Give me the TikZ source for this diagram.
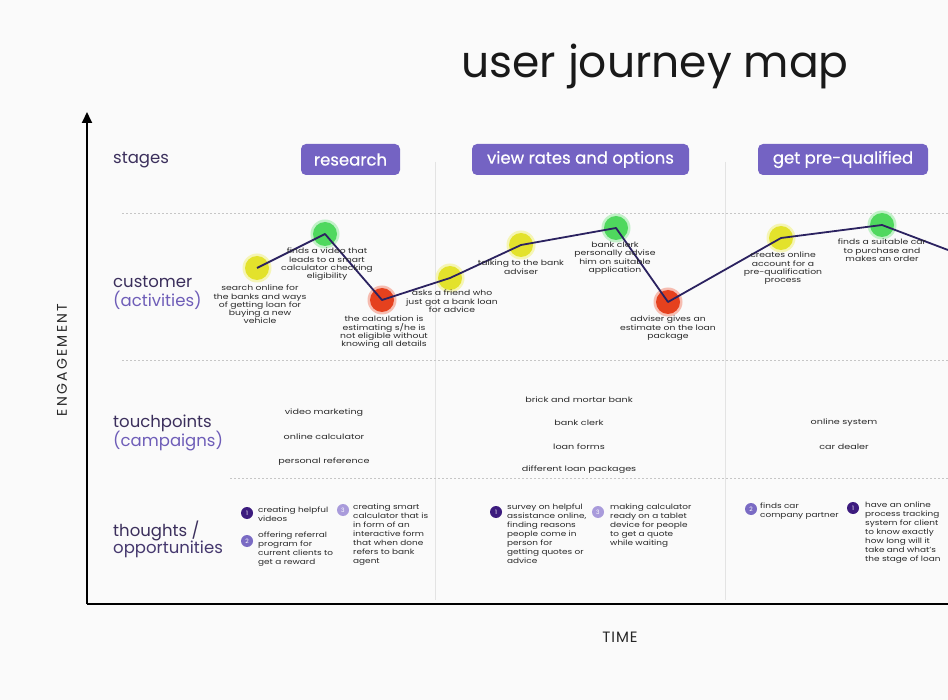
\documentclass[tikz,border=0pt]{standalone}
\usepackage{fontspec}
\setmainfont{Poppins}
\usetikzlibrary{arrows.meta}
\definecolor{bg}{HTML}{FAFAFA}
\definecolor{stagepurple}{HTML}{7463C3}
\definecolor{darkp}{HTML}{3B2F5C}
\definecolor{midp}{HTML}{6E5DB8}
\definecolor{linec}{HTML}{2B2260}
\definecolor{cyellow}{HTML}{E3E22C}
\definecolor{cgreen}{HTML}{4FD85E}
\definecolor{cred}{HTML}{E5411E}
\definecolor{bone}{HTML}{3C1B7E}
\definecolor{btwo}{HTML}{7A6BC4}
\definecolor{bthree}{HTML}{A99BDB}
\definecolor{txt}{HTML}{2A2A2A}
\begin{document}
\begin{tikzpicture}[x=1pt,y=-1pt,
 stagebox/.style={fill=stagepurple, rounded corners=5pt, text=white, font=\fontsize{16.5}{18}\selectfont\addfontfeatures{FakeBold=0.6}, minimum height=31pt, inner sep=0pt},
 rowlab/.style={anchor=west, font=\fontsize{16.5}{18}\selectfont, text=darkp, inner sep=0pt},
 rowlabb/.style={rowlab, text=midp},
 sepline/.style={gray!45, line width=0.6pt, dash pattern=on 2pt off 2pt},
 colsep/.style={gray!22, line width=0.8pt},
 dotc/.style={circle, minimum size=24pt, inner sep=0pt},
 small/.style={anchor=north, font=\fontsize{7.4}{8.2}\selectfont\addfontfeatures{FakeStretch=1.25}, text=txt, align=center, inner sep=0pt},
 tp/.style={font=\fontsize{7.4}{8}\selectfont\addfontfeatures{FakeStretch=1.3}, text=txt, inner sep=0pt},
 badge/.style={circle, minimum size=12pt, inner sep=0pt, text=white, font=\fontsize{6}{6}\selectfont},
 thought/.style={anchor=north west, align=left, font=\fontsize{7.3}{9}\selectfont\addfontfeatures{FakeStretch=1.22}, text=txt, inner sep=0pt},
 journey/.style={linec, line width=1.8pt, line join=round},
 axis/.style={black, line width=1.8pt},
]
\useasboundingbox (0,0) rectangle (948,700);
\fill[bg] (0,0) rectangle (948,700);

% title
\node[font=\fontsize{44}{50}\selectfont, text=black!90] (title) at (655,66) {user journey map};

% column separators
\coordinate (c1t) at (435,162); \coordinate (c1b) at (435,600);
\coordinate (c2t) at (725,162); \coordinate (c2b) at (725,600);
\draw[colsep] (c1t) -- (c1b);
\draw[colsep] (c2t) -- (c2b);

% row separators
\coordinate (s1a) at (122,213); \coordinate (s1b) at (948,213);
\coordinate (s2a) at (122,360); \coordinate (s2b) at (948,360);
\coordinate (s3a) at (230,478); \coordinate (s3b) at (948,478);
\draw[sepline] (s1a) -- (s1b);
\draw[sepline] (s2a) -- (s2b);
\draw[sepline] (s3a) -- (s3b);

% axes
\coordinate (origin) at (87,604);
\coordinate (ytop) at (87,112);
\coordinate (xend) at (948,604);
\draw[axis, -{Triangle[length=11pt,width=10pt]}] (origin) -- (ytop);
\draw[axis] (origin) -- (xend);
\node[rotate=90, font=\fontsize{14}{16}\selectfont\addfontfeatures{LetterSpace=16}, text=black!85] (eng) at (62,360) {ENGAGEMENT};
\node[font=\fontsize{15}{17}\selectfont\addfontfeatures{LetterSpace=6}, text=black!85] (time) at (620,637) {TIME};

% row labels
\node[rowlab] (lstages) at (113,160) {stages};
\node[rowlab] (lcust) at (113,282) {customer};
\node[rowlabb] (lact) at (113,300) {(activities)};
\node[rowlab] (ltouch) at (113,423) {touchpoints};
\node[rowlabb] (lcamp) at (113,441) {(campaigns)};
\node[rowlab] (lthou) at (113,531) {thoughts /};
\node[rowlabb, text=darkp!80!midp] (lopp) at (113,549) {opportunities};

% stages
\node[stagebox, minimum width=99pt] (st1) at (350.5,159.5) {research};
\node[stagebox, minimum width=217pt] (st2) at (580.5,159.5) {view rates and options};
\node[stagebox, minimum width=170pt] (st3) at (843,159.5) {get pre-qualified};

% journey dots
\foreach \n/\x/\y/\c in {d1/257/268/cyellow, d2/325/234/cgreen, d3/382/300/cred, d4/450/278/cyellow, d5/521/245/cyellow, d6/616/228/cgreen, d7/668/302/cred, d8/781/238/cyellow, d9/882/225/cgreen}{
  \fill[\c!35] (\x,\y) circle (14.5pt);
  \node[dotc, fill=\c] (\n) at (\x,\y) {};
}
\coordinate (dend) at (948,250);
\draw[journey] (d1.center) -- (d2.center) -- (d3.center) -- (d4.center) -- (d5.center) -- (d6.center) -- (d7.center) -- (d8.center) -- (d9.center) -- (dend);

% activity texts
\node[small] (a1) at (260,285) {search online for\\the banks and ways\\of getting loan for\\buying a new\\vehicle};
\node[small] (a2) at (327,248) {finds a video that\\leads to a smart\\calculator checking\\eligibility};
\node[small] (a3) at (384,316) {the calculation is\\estimating s/he is\\not eligible without\\knowing all details};
\node[small] (a4) at (452,290) {asks a friend who\\just got a bank loan\\for advice};
\node[small] (a5) at (521,260) {talking to the bank\\adviser};
\node[small] (a6) at (615,242) {bank clerk\\personally advise\\him on suitable\\application};
\node[small] (a7) at (668,316) {adviser gives an\\estimate on the loan\\package};
\node[small] (a8) at (783,252) {creates online\\account for a\\pre-qualification\\process};
\node[small] (a9) at (882,239) {finds a suitable car\\to purchase and\\makes an order};

% touchpoints
\node[tp] (t1) at (324,413) {video marketing};
\node[tp] (t2) at (324,437) {online calculator};
\node[tp] (t3) at (324,462) {personal reference};
\node[tp] (t4) at (579,400) {brick and mortar bank};
\node[tp] (t5) at (579,423) {bank clerk};
\node[tp] (t6) at (579,447) {loan forms};
\node[tp] (t7) at (579,470) {different loan packages};
\node[tp] (t8) at (844,423) {online system};
\node[tp] (t9) at (844,447) {car dealer};

% thoughts
\node[badge, fill=bone] (b1) at (247,513) {1};
\node[thought] (h1) at (258,507) {creating helpful\\videos};
\node[badge, fill=btwo] (b2) at (247,541) {2};
\node[thought] (h2) at (258,532) {offering referral\\program for\\current clients to\\get a reward};
\node[badge, fill=bthree] (b3) at (343,510) {3};
\node[thought] (h3) at (353,504) {creating smart\\calculator that is\\in form of an\\interactive form\\that when done\\refers to bank\\agent};

\node[badge, fill=bone] (b4) at (496,512) {1};
\node[thought] (h4) at (507,504) {survey on helpful\\assistance online,\\finding reasons\\people come in\\person for\\getting quotes or\\advice};
\node[badge, fill=bthree] (b5) at (598,512) {3};
\node[thought] (h5) at (610,504) {making calculator\\ready on a tablet\\device for people\\to get a quote\\while waiting};

\node[badge, fill=btwo] (b6) at (751,509) {2};
\node[thought] (h6) at (760,503) {finds car\\company partner};
\node[badge, fill=bone] (b7) at (853,508) {1};
\node[thought] (h7) at (865,502) {have an online\\process tracking\\system for client\\to know exactly\\how long will it\\take and what's\\the stage of loan};
\end{tikzpicture}
\end{document}
